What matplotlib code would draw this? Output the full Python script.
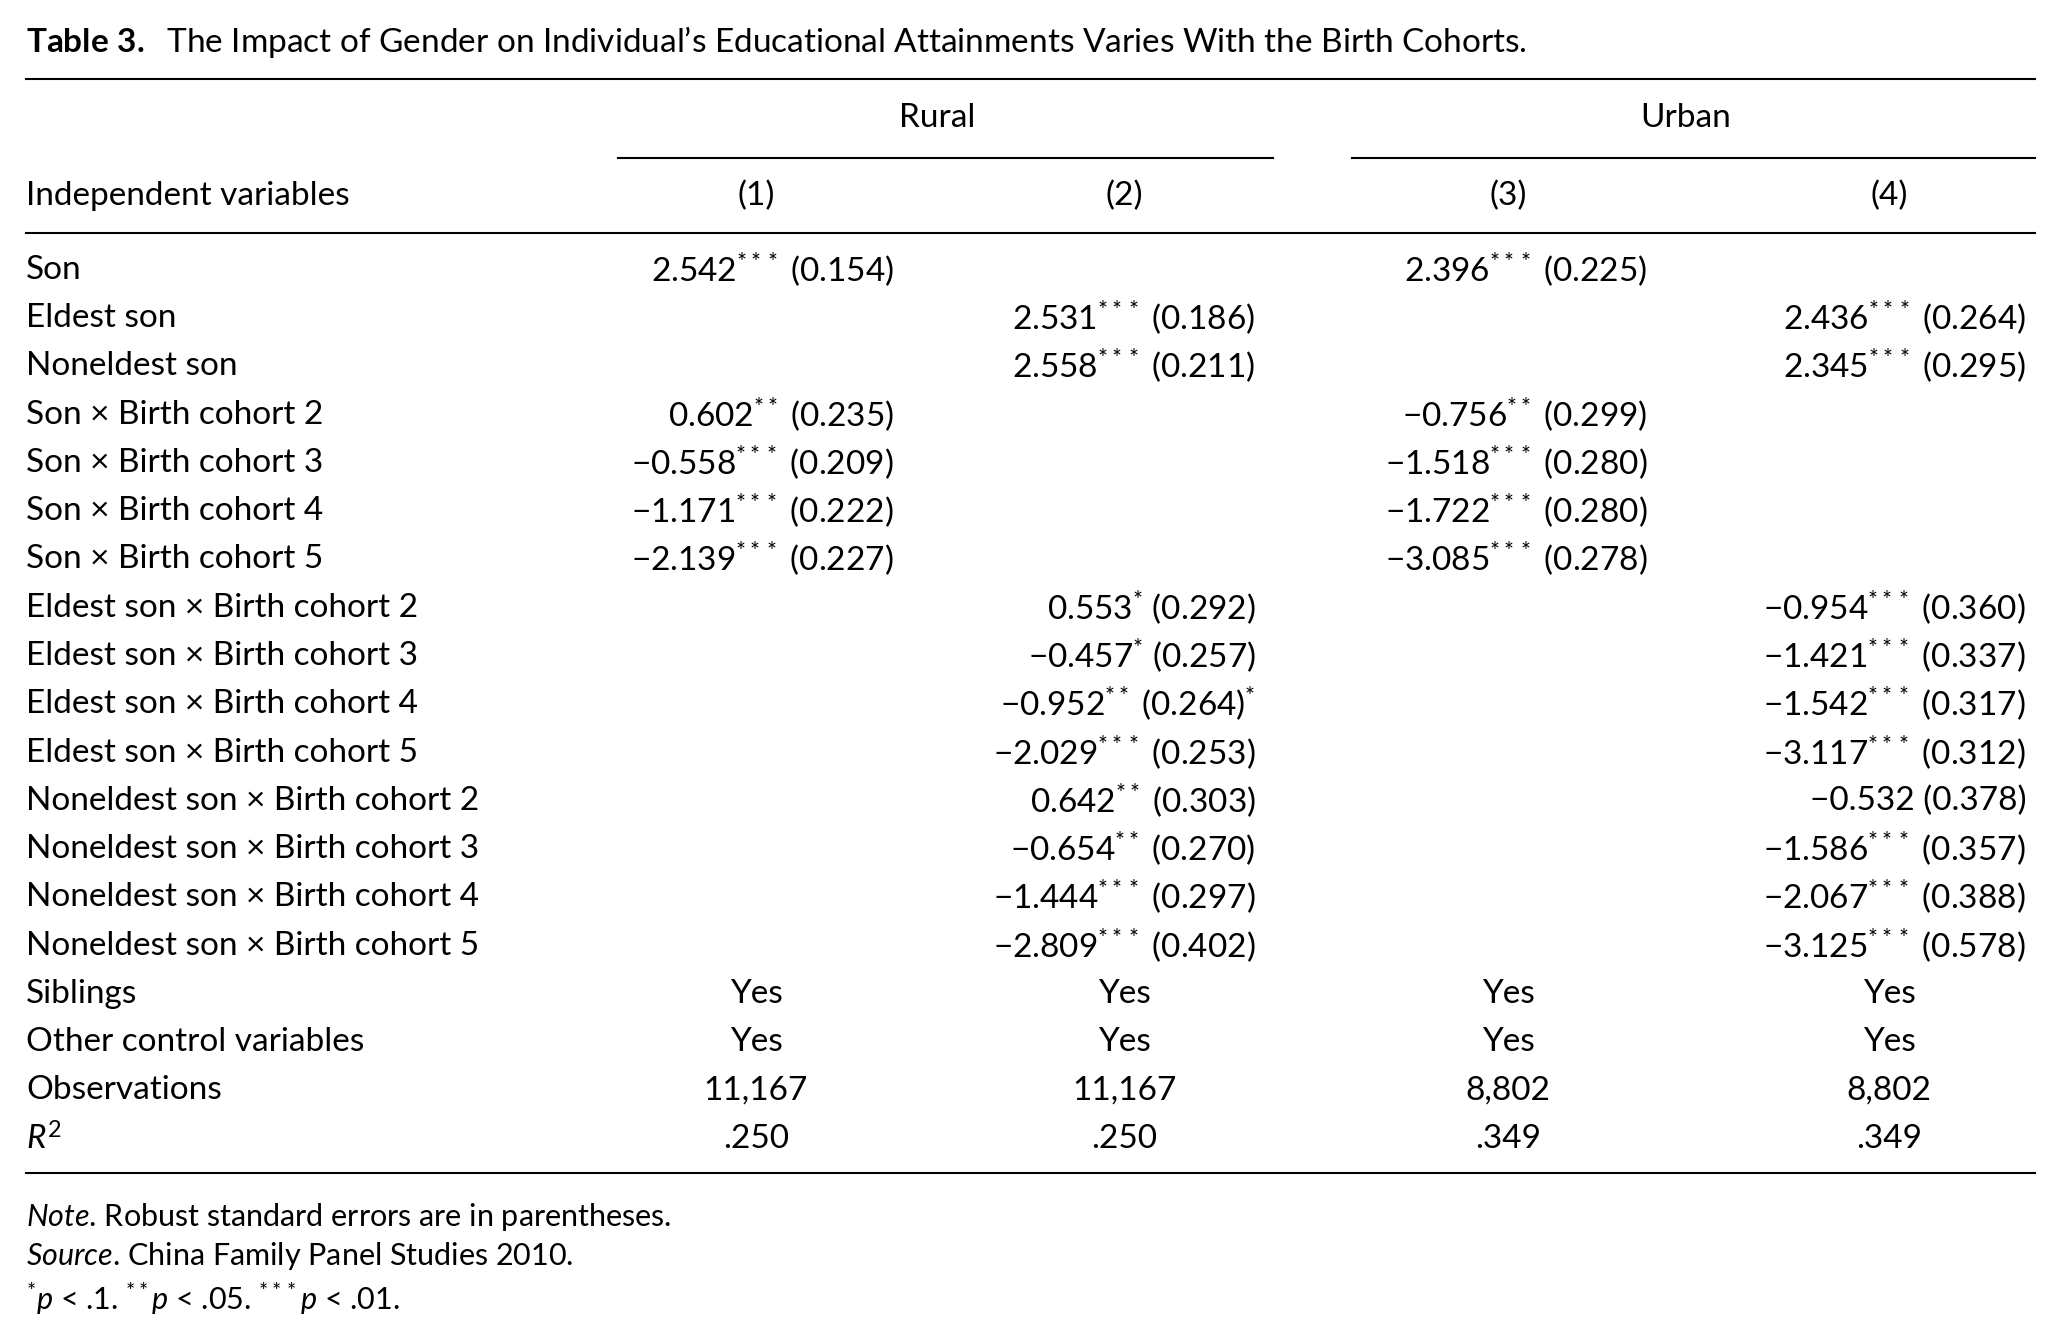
import matplotlib
matplotlib.use('Agg')
import matplotlib.pyplot as plt

plt.rcParams['font.family'] = ['Lato', 'DejaVu Sans']
plt.rcParams['mathtext.fontset'] = 'custom'
plt.rcParams['mathtext.rm'] = 'Lato'
plt.rcParams['mathtext.it'] = 'Lato:italic'
plt.rcParams['mathtext.bf'] = 'Lato:bold'

fs = 24

row_labels = ['Son', 'Eldest son', 'Noneldest son',
              'Son × Birth cohort 2', 'Son × Birth cohort 3', 'Son × Birth cohort 4', 'Son × Birth cohort 5',
              'Eldest son × Birth cohort 2', 'Eldest son × Birth cohort 3', 'Eldest son × Birth cohort 4',
              'Eldest son × Birth cohort 5',
              'Noneldest son × Birth cohort 2', 'Noneldest son × Birth cohort 3', 'Noneldest son × Birth cohort 4',
              'Noneldest son × Birth cohort 5']
# (coef, stars, se)
col1 = [('2.542', '***', '0.154'), None, None,
        ('0.602', '**', '0.235'), ('−0.558', '***', '0.209'), ('−1.171', '***', '0.222'), ('−2.139', '***', '0.227'),
        None, None, None, None, None, None, None, None]
col2 = [None, ('2.531', '***', '0.186'), ('2.558', '***', '0.211'), None, None, None, None,
        ('0.553', '*', '0.292'), ('−0.457', '*', '0.257'), ('−0.952', '**', '0.264)*'), ('−2.029', '***', '0.253'),
        ('0.642', '**', '0.303'), ('−0.654', '**', '0.270'), ('−1.444', '***', '0.297'), ('−2.809', '***', '0.402')]
col3 = [('2.396', '***', '0.225'), None, None,
        ('−0.756', '**', '0.299'), ('−1.518', '***', '0.280'), ('−1.722', '***', '0.280'), ('−3.085', '***', '0.278'),
        None, None, None, None, None, None, None, None]
col4 = [None, ('2.436', '***', '0.264'), ('2.345', '***', '0.295'), None, None, None, None,
        ('−0.954', '***', '0.360'), ('−1.421', '***', '0.337'), ('−1.542', '***', '0.317'), ('−3.117', '***', '0.312'),
        ('−0.532', '', '0.378'), ('−1.586', '***', '0.357'), ('−2.067', '***', '0.388'), ('−3.125', '***', '0.578')]
footer_labels = ['Siblings', 'Other control variables', 'Observations', '$R^2$']
footer_vals = [['Yes'] * 4, ['Yes'] * 4, ['11,167', '11,167', '8,802', '8,802'], ['.250', '.250', '.349', '.349']]
col_heads = ['(1)', '(2)', '(3)', '(4)']

W, H = 1560.0, 1014.0
fig = plt.figure(figsize=(20.51, 13.34), dpi=100)

def X(x): return x / W
def Y(y): return 1 - y / H

def line(x0, x1, y, lw=1.5):
    fig.add_artist(plt.Line2D([X(x0), X(x1)], [Y(y), Y(y)], color='black', lw=lw))

fig.text(X(20), Y(32), r'$\mathbf{Table\ 3.}$  The Impact of Gender on Individual’s Educational Attainments Varies With the Birth Cohorts.',
         fontsize=fs, va='center', ha='left')
line(20, 1548, 60)
fig.text(X(713), Y(90), 'Rural', fontsize=fs, ha='center', va='center')
fig.text(X(1282), Y(90), 'Urban', fontsize=fs, ha='center', va='center')
line(470, 968, 120)
line(1028, 1548, 120)
fig.text(X(20), Y(149), 'Independent variables', fontsize=fs, va='center')
centers = [575, 855, 1147, 1437]
rights = [680, 955, 1253, 1541]
for c, h in zip(centers, col_heads):
    fig.text(X(c), Y(149), h, fontsize=fs, ha='center', va='center')
line(20, 1548, 177)

y0, dy = 205, 36.7
cols = [col1, col2, col3, col4]
for i, lab in enumerate(row_labels):
    y = y0 + i * dy
    fig.text(X(20), Y(y), lab, fontsize=fs, va='center')
    for j, col in enumerate(cols):
        cell = col[i]
        if cell is None:
            continue
        coef, st, se = cell
        if se.endswith('*'):
            se_txt = '(' + se[:-1] + '$^{*}$'
        else:
            se_txt = '(' + se + ')'
        s = coef + ('$^{' + st + '}$' if st else '') + ' ' + se_txt
        fig.text(X(rights[j]), Y(y), s, fontsize=fs, ha='right', va='center')

for k, lab in enumerate(footer_labels):
    y = y0 + (len(row_labels) + k) * dy
    fig.text(X(20), Y(y), lab, fontsize=fs, va='center')
    for j, v in enumerate(footer_vals[k]):
        fig.text(X(centers[j]), Y(y), v, fontsize=fs, ha='center', va='center')
line(20, 1548, 892)

fig.text(X(20), Y(925), r'$\it{Note}$. Robust standard errors are in parentheses.', fontsize=fs - 2, va='center')
fig.text(X(20), Y(955), r'$\it{Source}$. China Family Panel Studies 2010.', fontsize=fs - 2, va='center')
fig.text(X(20), Y(987), r'$^{*}\it{p}$ < .1. $^{**}\it{p}$ < .05. $^{***}\it{p}$ < .01.', fontsize=fs - 2, va='center')

fig.savefig('out.png', dpi=100, facecolor='white')
